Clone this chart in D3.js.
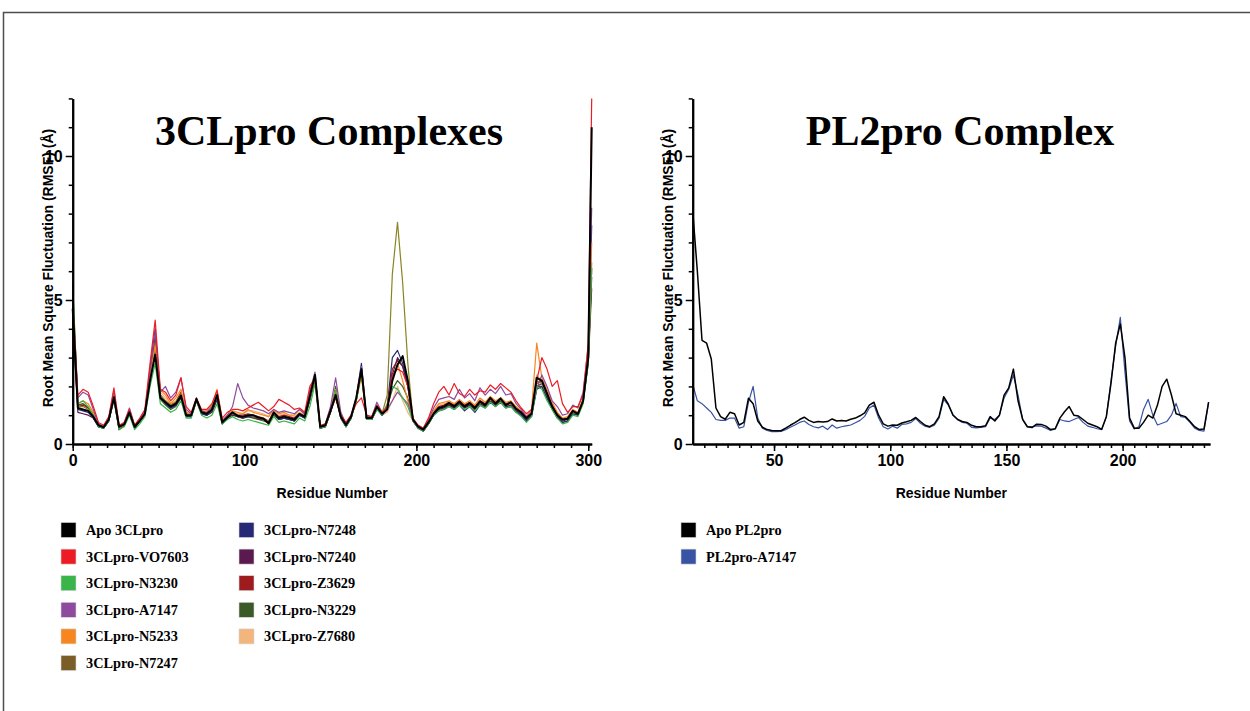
<!doctype html>
<html>
<head>
<meta charset="utf-8">
<script src="https://cdn.jsdelivr.net/npm/d3@7"></script>
<style>
body {margin: 0; background: #fff;}
.tick text {font-family: "Liberation Sans", Arial, sans-serif; font-weight: bold; font-size: 16px; fill: #000;}
.axtitle {font-family: "Liberation Sans", Arial, sans-serif; font-weight: bold; font-size: 14px;}
.title {font-family: "Liberation Serif", "Times New Roman", serif; font-weight: bold; font-size: 42px;}
.leg {font-family: "Liberation Serif", "Times New Roman", serif; font-weight: bold; font-size: 14.3px;}
</style>
</head>
<body>
<svg id="fig" width="1250" height="711"></svg>
<script>
// ---------------- data: 3CLpro (RMSF, Angstrom) ----------------
var clResidues = [0,3,6,9,12,15,18,21,24,27, 30,33,36,39,42,45,48,51,54,57,
  60,63,66,69,72,75,78,81,84,87, 90,93,96,99,102,105,108,111,114,117,
  120,123,126,129,132,135,138,141,144,147, 150,153,156,159,162,165,168,171,174,177,
  180,183,186,189,192,195,198,201,204,207, 210,213,216,219,222,225,228,231,234,237,
  240,243,246,249,252,255,258,261,264,267, 270,273,276,279,282,285,288,291,294,297,
  300,302];

var apo3CL = [4.7,1.25,1.2,1.15,0.95,0.65,0.58,0.85,1.62,0.6,
  0.68,1.1,0.6,0.8,1.05,2.2,3.1,1.6,1.45,1.3,
  1.4,1.68,1.0,1.0,1.56,1.1,1.05,1.2,1.7,0.75,
  0.93,1.1,0.98,0.95,1.0,1.0,0.92,0.88,0.72,1.1,
  0.9,0.95,0.9,0.85,1.05,0.95,1.65,2.4,0.6,0.65,
  1.15,1.7,0.95,0.66,0.95,1.6,2.6,0.9,0.9,1.3,
  1.05,1.2,2.2,2.75,3.05,2.2,0.85,0.6,0.5,0.75,
  1.05,1.25,1.3,1.42,1.3,1.47,1.3,1.42,1.25,1.48,
  1.35,1.6,1.4,1.58,1.35,1.45,1.22,1.1,0.9,1.05,
  2.3,2.2,1.75,1.3,1.0,0.85,0.88,1.15,1.05,1.5,
  3.0,11.0];
var vo7603 = [5.0,1.7,1.9,1.8,1.3,0.75,0.65,0.95,1.95,0.65,
  0.75,1.2,0.65,0.9,1.2,2.8,4.3,1.9,1.8,1.5,
  1.7,2.3,1.3,1.1,1.6,1.2,1.2,1.4,1.85,0.9,
  1.1,1.2,1.2,1.15,1.25,1.35,1.45,1.3,1.15,1.3,
  1.55,1.45,1.35,1.2,1.25,1.1,2.0,2.3,0.65,0.7,
  1.2,1.6,1.0,0.75,1.0,1.4,1.6,1.0,0.95,1.35,
  1.1,1.3,2.4,2.6,2.5,2.0,0.9,0.65,0.55,0.9,
  1.4,1.8,2.0,1.7,2.1,1.75,1.65,1.9,1.7,1.85,
  1.8,2.05,1.9,2.1,1.95,1.8,1.5,1.25,1.05,1.2,
  2.2,3.0,2.6,2.0,2.2,1.4,1.1,1.3,1.3,1.7,
  3.5,12.0];
var n3230 = [5.6,1.4,1.5,1.3,1.0,0.6,0.55,0.8,1.55,0.5,
  0.6,1.0,0.5,0.7,0.95,2.0,2.8,1.4,1.25,1.1,
  1.2,1.5,0.9,0.9,1.5,1.0,0.9,1.0,1.4,0.7,
  0.85,0.95,0.85,0.8,0.85,0.8,0.75,0.7,0.65,0.95,
  0.75,0.8,0.75,0.7,0.9,0.8,1.3,2.1,0.55,0.6,
  1.1,1.85,0.9,0.6,0.9,1.5,2.5,0.85,0.85,1.2,
  1.0,1.4,2.0,1.9,1.6,1.3,0.8,0.55,0.45,0.7,
  1.0,1.15,1.2,1.3,1.2,1.35,1.2,1.3,1.15,1.35,
  1.25,1.45,1.3,1.45,1.25,1.3,1.1,0.95,0.75,0.95,
  2.0,1.9,1.5,1.2,0.9,0.7,0.75,1.0,0.95,1.4,
  2.8,6.1];
var a7147 = [5.2,1.6,1.8,1.7,1.2,0.7,0.6,0.9,1.85,0.6,
  0.75,1.25,0.65,0.85,1.15,2.5,3.9,1.8,2.0,1.6,
  1.8,2.3,1.2,1.05,1.5,1.15,1.1,1.3,1.6,0.8,
  1.0,1.3,2.1,1.6,1.35,1.25,1.2,1.15,1.05,1.2,
  1.1,1.15,1.1,1.05,1.2,1.05,1.8,2.5,0.6,0.7,
  1.3,2.3,1.1,0.7,1.0,1.6,2.7,0.95,0.95,1.45,
  1.1,1.2,1.5,1.8,1.6,1.4,0.85,0.65,0.55,0.85,
  1.25,1.55,1.6,1.65,1.55,1.9,1.6,1.75,1.5,1.95,
  1.7,1.9,1.75,2.0,1.7,1.75,1.4,1.2,0.95,1.1,
  1.9,2.4,2.0,1.5,1.3,1.0,1.05,1.35,1.25,1.8,
  3.4,8.2];
var n5233 = [4.9,1.4,1.5,1.4,1.1,0.65,0.6,0.9,1.7,0.55,
  0.7,1.15,0.6,0.85,1.1,2.4,3.4,1.9,1.7,1.4,
  1.6,1.9,1.1,1.05,1.55,1.15,1.15,1.35,1.9,0.8,
  1.0,1.15,1.1,1.05,1.2,1.1,1.05,1.0,0.95,1.2,
  1.05,1.1,1.0,1.0,1.2,1.0,1.6,2.3,0.6,0.7,
  1.2,1.9,1.0,0.65,0.95,1.55,2.4,0.9,0.95,1.3,
  1.05,1.3,2.3,2.8,2.2,1.5,0.85,0.6,0.55,0.8,
  1.15,1.4,1.45,1.5,1.4,1.55,1.4,1.5,1.35,1.6,
  1.45,1.65,1.5,1.6,1.45,1.5,1.3,1.15,0.95,1.2,
  3.5,2.3,1.9,1.45,1.1,0.9,0.95,1.2,1.1,1.6,
  3.2,7.0];
var n7247 = [4.8,1.3,1.3,1.2,1.0,0.65,0.6,0.85,1.6,0.55,
  0.65,1.1,0.6,0.85,1.05,2.3,3.5,1.7,1.5,1.35,
  1.45,1.75,1.05,1.0,1.55,1.1,1.05,1.2,1.65,0.75,
  0.95,1.05,1.0,0.95,1.0,0.95,0.9,0.85,0.8,1.05,
  0.9,0.95,0.9,0.85,1.05,0.95,1.6,2.35,0.6,0.65,
  1.15,1.75,0.95,0.65,0.95,1.55,2.5,0.9,0.9,1.25,
  1.05,1.7,5.9,7.7,5.6,2.8,0.85,0.6,0.5,0.75,
  1.05,1.25,1.3,1.4,1.3,1.45,1.3,1.4,1.25,1.45,
  1.35,1.55,1.4,1.55,1.35,1.4,1.2,1.1,0.9,1.05,
  2.2,2.1,1.7,1.3,1.0,0.85,0.9,1.1,1.05,1.5,
  3.0,6.3];
var n7248 = [4.5,1.2,1.15,1.1,0.9,0.6,0.55,0.8,1.6,0.55,
  0.65,1.1,0.55,0.8,1.05,2.6,4.0,1.7,1.4,1.25,
  1.35,1.65,0.95,0.95,1.5,1.05,1.0,1.15,1.6,0.7,
  0.9,1.05,0.95,0.95,0.95,0.95,0.9,0.85,0.75,1.05,
  0.85,0.9,0.85,0.8,1.0,0.9,1.55,2.35,0.55,0.6,
  1.1,1.8,0.9,0.6,0.9,1.6,2.8,0.85,0.85,1.25,
  1.0,1.3,3.0,3.25,2.8,2.1,0.8,0.55,0.45,0.7,
  1.0,1.15,1.2,1.3,1.2,1.35,1.15,1.3,1.1,1.35,
  1.25,1.45,1.3,1.45,1.25,1.3,1.1,1.0,0.8,0.95,
  1.9,2.0,1.6,1.2,0.9,0.75,0.8,1.05,1.0,1.45,
  3.0,7.6];
var n7240 = [4.4,1.1,1.05,1.0,0.9,0.6,0.55,0.8,1.55,0.5,
  0.65,1.05,0.55,0.8,1.0,2.5,3.8,1.6,1.4,1.25,
  1.35,1.6,0.95,0.95,1.5,1.05,1.0,1.1,1.55,0.7,
  0.9,1.0,0.95,0.9,0.95,0.95,0.85,0.85,0.7,1.05,
  0.85,0.9,0.85,0.8,1.0,0.9,1.7,2.4,0.55,0.6,
  1.1,1.65,0.9,0.6,0.9,1.55,2.6,0.85,0.85,1.25,
  1.0,1.2,2.4,3.0,2.7,2.0,0.8,0.55,0.45,0.7,
  1.0,1.2,1.25,1.35,1.25,1.4,1.25,1.35,1.2,1.4,
  1.3,1.5,1.35,1.5,1.3,1.35,1.15,1.05,0.85,1.0,
  2.0,2.1,1.7,1.25,0.95,0.8,0.85,1.1,1.0,1.5,
  2.9,5.8];
var z3629 = [4.8,1.3,1.35,1.25,1.0,0.65,0.6,0.85,1.65,0.55,
  0.7,1.1,0.6,0.85,1.1,2.4,3.6,1.7,1.5,1.35,
  1.45,1.8,1.05,1.0,1.55,1.1,1.05,1.2,1.65,0.8,
  0.95,1.05,1.0,1.0,1.05,1.0,0.95,0.9,0.8,1.1,
  0.95,1.0,0.95,0.9,1.05,0.95,1.85,2.3,0.6,0.65,
  1.15,1.65,0.95,0.65,0.95,1.55,2.5,0.9,0.9,1.3,
  1.05,1.25,2.6,2.9,2.7,2.0,0.85,0.6,0.5,0.75,
  1.1,1.3,1.35,1.45,1.35,1.5,1.35,1.45,1.3,1.5,
  1.4,1.6,1.45,1.6,1.4,1.45,1.25,1.1,0.9,1.05,
  2.1,2.2,1.8,1.35,1.05,0.85,0.9,1.15,1.05,1.5,
  2.8,5.4];
var n3229 = [5.5,1.35,1.4,1.25,1.0,0.6,0.55,0.8,1.6,0.5,
  0.65,1.05,0.55,0.8,1.0,2.3,3.3,1.55,1.35,1.2,
  1.3,1.6,1.0,0.95,1.6,1.05,1.0,1.1,1.55,0.75,
  0.9,1.05,0.95,0.9,0.95,0.9,0.85,0.8,0.75,1.0,
  0.85,0.9,0.85,0.8,1.0,0.9,1.5,2.2,0.55,0.6,
  1.1,2.0,0.95,0.6,0.9,1.5,2.55,0.85,0.85,1.2,
  1.0,1.3,1.9,2.2,2.0,1.6,0.8,0.55,0.45,0.7,
  1.0,1.2,1.25,1.35,1.25,1.4,1.25,1.35,1.2,1.4,
  1.3,1.5,1.35,1.5,1.3,1.35,1.15,1.0,0.8,1.0,
  2.0,2.0,1.6,1.25,0.95,0.75,0.8,1.05,1.0,1.45,
  2.9,6.1];
var z7680 = [4.0,1.3,1.4,1.3,1.05,0.65,0.6,0.85,1.65,0.55,
  0.7,1.15,0.6,0.85,1.1,2.3,3.2,1.8,1.6,1.4,
  1.5,1.8,1.1,1.0,1.5,1.15,1.15,1.3,1.7,0.85,
  1.0,1.1,1.05,1.05,1.15,1.15,1.1,1.05,0.95,1.15,
  1.0,1.05,1.0,0.95,1.1,1.0,1.6,2.25,0.6,0.65,
  1.1,1.6,0.95,0.65,0.95,1.5,2.3,0.9,0.9,1.25,
  1.0,1.1,1.5,2.0,1.5,1.1,0.8,0.6,0.5,0.8,
  1.1,1.35,1.4,1.45,1.35,1.5,1.35,1.45,1.3,1.55,
  1.4,1.6,1.45,1.6,1.4,1.45,1.25,1.1,0.9,1.1,
  2.4,2.2,1.8,1.4,1.05,0.85,0.9,1.15,1.05,1.5,
  3.0,6.0];

var clNames = ["Apo 3CLpro","3CLpro-VO7603","3CLpro-N3230","3CLpro-A7147","3CLpro-N5233","3CLpro-N7247",
  "3CLpro-N7248","3CLpro-N7240","3CLpro-Z3629","3CLpro-N3229","3CLpro-Z7680"];
var clValues = [apo3CL, vo7603, n3230, a7147, n5233, n7247, n7248, n7240, z3629, n3229, z7680];
var clColors = ["#000000","#ed1c24","#39b54a","#8e4b9e","#f7861f","#8a8422",
  "#262a76","#5b1a4f","#9e1c20","#3a5b27","#f2b57c"];
var clSwatch = ["#000000","#ed1c24","#39b54a","#8e4b9e","#f7861f","#7b5e27",
  "#262a76","#5b1a4f","#9e1c20","#3a5b27","#f2b57c"];

// ---------------- data: PL2pro ----------------
var plResidues = [15,17,19,21,23,25,27,29,31,33, 35,37,39,41,43,45,47,49,51,53,
  55,57,59,61,63,65,67,69,71,73, 75,77,79,81,83,85,87,89,91,93,
  95,97,99,101,103,105,107,109,111,113, 115,117,119,121,123,125,127,129,131,133,
  135,137,139,141,143,145,147,149,151,153, 155,157,159,161,163,165,167,169,171,173,
  175,177,179,181,183,185,187,189,191,193, 195,197,199,201,203,205,207,209,211,213,
  215,217,219,221,223,225,227,229,231,233, 235,237];
var apoPL = [8.1,6.0,3.6,3.5,2.95,1.25,0.95,0.86,1.1,1.05,
  0.66,0.75,1.59,1.4,0.8,0.58,0.5,0.47,0.46,0.46,
  0.55,0.65,0.74,0.85,0.93,0.82,0.75,0.78,0.76,0.78,
  0.87,0.8,0.82,0.8,0.86,0.9,0.98,1.08,1.35,1.45,
  1.0,0.7,0.62,0.66,0.65,0.73,0.77,0.82,0.92,0.78,
  0.65,0.6,0.7,0.95,1.64,1.38,1.0,0.85,0.78,0.75,
  0.65,0.6,0.6,0.63,0.95,0.8,1.0,1.7,1.95,2.6,
  1.5,0.85,0.6,0.57,0.69,0.68,0.62,0.5,0.53,0.9,
  1.12,1.3,1.0,0.97,0.85,0.72,0.66,0.6,0.51,0.95,
  2.1,3.5,4.17,3.0,0.9,0.55,0.55,0.75,1.0,0.9,
  1.35,2.0,2.25,1.7,1.05,1.0,0.95,0.78,0.6,0.5,
  0.52,1.45];
var plA7147 = [2.08,1.5,1.4,1.25,1.1,0.85,0.82,0.82,0.9,0.9,
  0.55,0.6,1.45,2.0,0.9,0.55,0.47,0.43,0.43,0.44,
  0.5,0.58,0.66,0.75,0.8,0.68,0.6,0.56,0.62,0.5,
  0.66,0.55,0.6,0.63,0.66,0.74,0.82,0.96,1.25,1.35,
  0.9,0.6,0.52,0.62,0.55,0.68,0.7,0.75,0.88,0.72,
  0.62,0.58,0.65,0.9,1.55,1.35,1.02,0.85,0.75,0.72,
  0.58,0.56,0.58,0.6,0.9,0.85,1.0,1.6,1.9,2.4,
  1.7,0.85,0.6,0.6,0.63,0.62,0.55,0.47,0.52,0.85,
  0.8,0.78,0.85,0.92,0.75,0.62,0.58,0.53,0.5,0.95,
  2.2,3.4,4.4,2.5,0.8,0.52,0.6,1.2,1.55,1.0,
  0.66,0.72,0.78,1.0,1.41,0.95,0.92,0.75,0.55,0.47,
  0.45,1.45];
var plNames = ["Apo PL2pro","PL2pro-A7147"];
var plValues = [apoPL, plA7147];
var plColors = ["#000000","#3953a4"];

var yTicksMajor = [0, 5, 10];
var yTicksMinor = [1,2,3,4,6,7,8,9,11,12];

var svg = d3.select("#fig");

// frame line at top / left
svg.append("path").attr("d", "M3.5,711V12.5H1250")
  .attr("fill", "none").attr("stroke", "#4d4d4d").attr("stroke-width", 1.5);

var y = d3.scaleLinear().domain([0, 12]).range([444, 98.4]);

function panel(p) {
  var x = d3.scaleLinear().domain(p.xDomain).range([p.x0, p.x1]);
  var g = svg.append("g");

  // lines: coloured ones first, reference (index 0) on top
  var line = d3.line().x(function(d) { return x(d[0]); }).y(function(d) { return y(d[1]); });
  var order = d3.range(p.values.length).slice(1).reverse().concat([0]);
  order.forEach(function(i) {
    var pts = p.residues.map(function(r, k) { return [r, p.values[i][k]]; });
    g.append("path").datum(pts)
      .attr("d", line)
      .attr("fill", "none")
      .attr("stroke", p.colors[i])
      .attr("stroke-width", i === 0 ? p.refWidth : 1.2)
      .attr("stroke-linejoin", "round");
  });

  // axes
  var gx = g.append("g").attr("transform", "translate(0,444)");
  gx.call(d3.axisBottom(x).tickValues(p.minorX).tickSize(4).tickFormat("").tickSizeOuter(0));
  gx.append("g").call(d3.axisBottom(x).tickValues(p.majorX).tickSize(7).tickPadding(4).tickSizeOuter(0));
  var gy = g.append("g").attr("transform", "translate(" + p.x0 + ",0)");
  gy.call(d3.axisLeft(y).tickValues(yTicksMinor).tickSize(4).tickFormat("").tickSizeOuter(0));
  gy.append("g").call(d3.axisLeft(y).tickValues(yTicksMajor).tickSize(7).tickPadding(3).tickSizeOuter(0));
  g.selectAll(".domain").attr("stroke", "#000").attr("stroke-width", 2);
  g.selectAll(".tick line").attr("stroke", "#000").attr("stroke-width", 1.5);

  // titles
  g.append("text").attr("class", "title")
    .attr("x", p.titleX).attr("y", 145).attr("text-anchor", "middle").text(p.title);
  g.append("text").attr("class", "axtitle")
    .attr("x", (p.x0 + p.x1) / 2).attr("y", 498).attr("text-anchor", "middle")
    .text("Residue Number");
  g.append("text").attr("class", "axtitle")
    .attr("transform", "translate(" + (p.x0 - 20) + ",268) rotate(-90)")
    .attr("text-anchor", "middle")
    .text("Root Mean Square Fluctuation (RMSF) (\u00c5)");

  // legend
  p.names.forEach(function(n, i) {
    var col = Math.floor(i / p.perCol), row = i % p.perCol;
    var lx = p.legX + col * 178, ly = 530 + row * 26.6;
    g.append("rect").attr("x", lx).attr("y", ly - 7.5).attr("width", 15).attr("height", 15)
      .attr("fill", p.swatch[i]).attr("stroke", "#d8d8d8").attr("stroke-width", 0.6);
    g.append("text").attr("class", "leg")
      .attr("x", lx + 25).attr("y", ly + 5).text(n);
  });
}

panel({
  x0: 72.7, x1: 591.7, xDomain: [0, 302],
  majorX: [0, 100, 200, 300], minorX: d3.range(0, 301, 10),
  residues: clResidues, values: clValues, colors: clColors, swatch: clSwatch,
  names: clNames, refWidth: 2, title: "3CLpro Complexes", titleX: 329,
  legX: 61, perCol: 6
});

panel({
  x0: 692.7, x1: 1210, xDomain: [15, 237.6],
  majorX: [50, 100, 150, 200], minorX: d3.range(20, 236, 5),
  residues: plResidues, values: plValues, colors: plColors, swatch: plColors,
  names: plNames, refWidth: 1.5, title: "PL2pro Complex", titleX: 960,
  legX: 681, perCol: 6
});
</script>
</body>
</html>
